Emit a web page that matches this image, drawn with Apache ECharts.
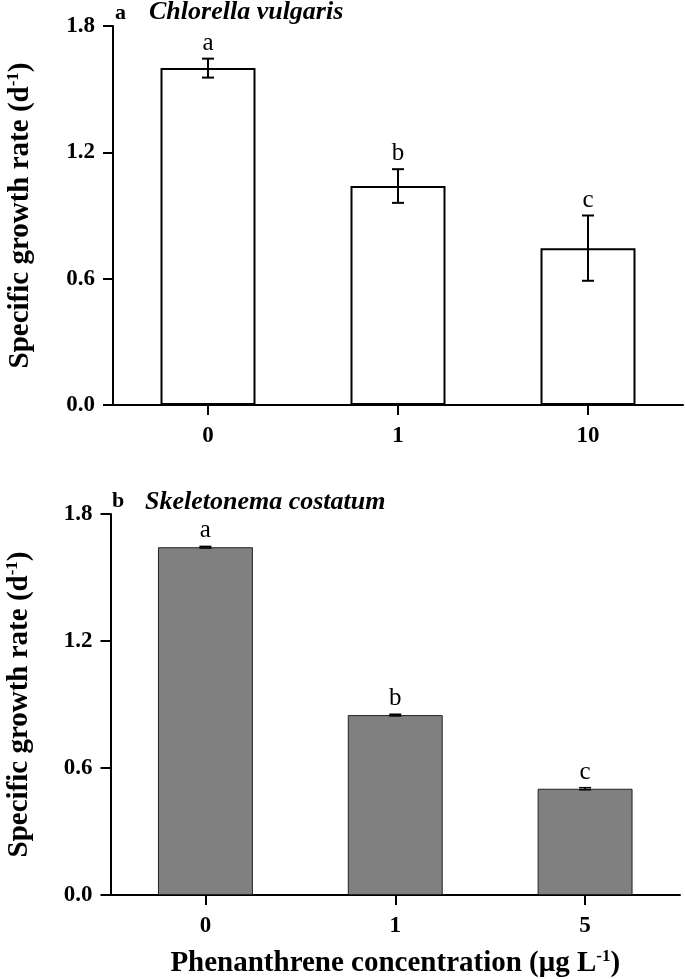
<!DOCTYPE html>
<html>
<head>
<meta charset="utf-8">
<script src="https://cdn.jsdelivr.net/npm/echarts@6/dist/echarts.min.js"></script>
<style>
html,body{margin:0;padding:0;background:#fff;}
#chart{width:685px;height:979px;}
</style>
</head>
<body>
<div id="chart"></div>
<script>
// Panel a: Chlorella vulgaris
var categoriesA = ['0', '1', '10'];
var valuesA = [1.60, 1.04, 0.745];
var errorsA = [0.045, 0.08, 0.155];
var lettersA = ['a', 'b', 'c'];
// Panel b: Skeletonema costatum
var categoriesB = ['0', '1', '5'];
var valuesB = [1.643, 0.85, 0.502];
var errorsB = [0.004, 0.004, 0.005];
var lettersB = ['a', 'b', 'c'];

var FONT = '"Liberation Serif", "Times New Roman", serif';

var chart = echarts.init(document.getElementById('chart'), null, {renderer: 'canvas'});

function errRender(values, errors, letters, capW, lw) {
  return function (params, api) {
    var i = params.dataIndex;
    var v = values[i], e = errors[i];
    var top = api.coord([i, v + e]);
    var bot = api.coord([i, v - e]);
    var x = top[0];
    var st = {stroke: '#000', lineWidth: lw};
    return {
      type: 'group',
      children: [
        {type: 'line', shape: {x1: x, y1: top[1], x2: x, y2: bot[1]}, style: st},
        {type: 'line', shape: {x1: x - capW / 2, y1: top[1], x2: x + capW / 2, y2: top[1]}, style: st},
        {type: 'line', shape: {x1: x - capW / 2, y1: bot[1], x2: x + capW / 2, y2: bot[1]}, style: st},
        {type: 'text', x: x, y: top[1] - 3, style: {text: letters[i], font: '25px ' + FONT, fill: '#000', align: 'center', verticalAlign: 'bottom'}}
      ]
    };
  };
}

var nameRich = {
  b: {fontFamily: FONT, fontWeight: 'bold', fontSize: 29, color: '#000', lineHeight: 30, verticalAlign: 'bottom'},
  s: {fontFamily: FONT, fontWeight: 'bold', fontSize: 17, color: '#000', lineHeight: 30, verticalAlign: 'top'}
};

function yAxisCfg(gridIndex, lw, gap) {
  return {
    type: 'value', gridIndex: gridIndex, min: 0, max: 1.8, interval: 0.6,
    name: '{b|Specific growth rate (d}{s|-1}{b|)}',
    nameLocation: 'middle', nameRotate: 90, nameGap: gap,
    nameTextStyle: {rich: nameRich},
    axisLine: {show: true, lineStyle: {color: '#000', width: lw}},
    axisTick: {show: true, inside: false, length: 10, lineStyle: {color: '#000', width: lw}},
    axisLabel: {
      margin: 18, color: '#000', fontFamily: FONT, fontWeight: 'bold', fontSize: 23,
      formatter: function (v) { return v.toFixed(1); }
    },
    splitLine: {show: false}
  };
}

function xAxisCfg(gridIndex, cats, lw, name) {
  var c = {
    type: 'category', gridIndex: gridIndex, data: cats, boundaryGap: true,
    axisLine: {show: true, lineStyle: {color: '#000', width: lw}},
    axisTick: {show: true, alignWithLabel: true, length: 10, lineStyle: {color: '#000', width: lw}},
    axisLabel: {margin: 20, color: '#000', fontFamily: FONT, fontWeight: 'bold', fontSize: 23},
    splitLine: {show: false}
  };
  if (name) {
    c.name = name;
    c.nameLocation = 'middle';
    c.nameGap = 53;
    c.nameTextStyle = {rich: nameRich};
  }
  return c;
}

function titleText(x, y, text, font) {
  return {type: 'text', x: x, y: y, style: {text: text, font: font, fill: '#000', align: 'left', verticalAlign: 'middle'}};
}

var option = {
  animation: false,
  backgroundColor: '#fff',
  graphic: [
    titleText(115, 13, 'a', 'bold 22px ' + FONT),
    titleText(149, 12.5, 'Chlorella vulgaris', 'italic bold 26px ' + FONT),
    titleText(112, 501, 'b', 'bold 22px ' + FONT),
    titleText(145, 502, 'Skeletonema costatum', 'italic bold 26px ' + FONT)
  ],
  grid: [
    {left: 113, right: 2, top: 26, height: 379, containLabel: false, outerBoundsMode: 'none'},
    {left: 110.5, right: 5, top: 514, height: 381, containLabel: false, outerBoundsMode: 'none'}
  ],
  xAxis: [
    xAxisCfg(0, categoriesA, 2),
    xAxisCfg(1, categoriesB, 2, '{b|Phenanthrene concentration (μg L}{s|-1}{b|)}')
  ],
  yAxis: [yAxisCfg(0, 2, 78), yAxisCfg(1, 2, 76)],
  series: [
    {
      type: 'bar', xAxisIndex: 0, yAxisIndex: 0, data: valuesA, barWidth: '50%',
      itemStyle: {color: '#fff', borderColor: '#000', borderWidth: 2}, z: 2
    },
    {
      type: 'custom', xAxisIndex: 0, yAxisIndex: 0,
      data: valuesA.map(function (v, i) { return [i, v + errorsA[i]]; }),
      renderItem: errRender(valuesA, errorsA, lettersA, 12, 2), z: 5
    },
    {
      type: 'bar', xAxisIndex: 1, yAxisIndex: 1, data: valuesB, barWidth: '50%',
      itemStyle: {color: '#808080', borderColor: '#222', borderWidth: 1}, z: 2
    },
    {
      type: 'custom', xAxisIndex: 1, yAxisIndex: 1,
      data: valuesB.map(function (v, i) { return [i, v + errorsB[i]]; }),
      renderItem: errRender(valuesB, errorsB, lettersB, 12, 1.5), z: 5
    }
  ]
};
chart.setOption(option);
</script>
</body>
</html>
